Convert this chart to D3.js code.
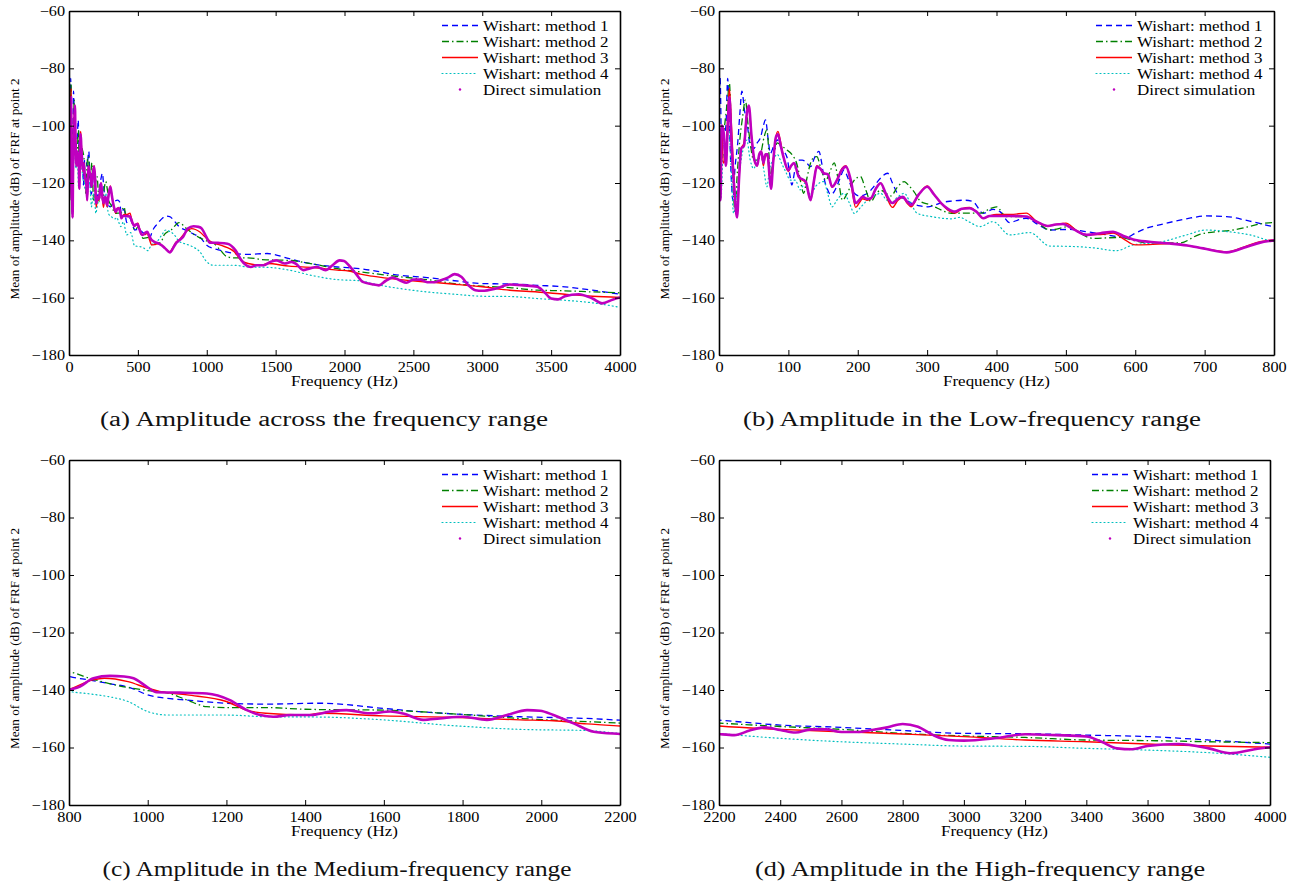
<!DOCTYPE html>
<html><head><meta charset="utf-8">
<script src="https://cdn.jsdelivr.net/npm/d3@7"></script>
<style>
body{margin:0;background:#fff;}
svg{display:block;}
svg text{font-family:"Liberation Serif","Times New Roman",serif !important;}
</style></head>
<body><svg id="c" width="1297" height="888"></svg>
<script>
// ---------------- data (frequency Hz, amplitude dB) ----------------
const method1 = [[0,-100],[1.5,-83],[4,-110],[7,-104],[10,-100],[12.5,-83.5],[15,-100],[18,-120],[20,-126],[23,-115],[27,-106],[30,-96],[33,-88],[37,-95],[40,-98],[45,-107],[50,-108],[55,-106],[60,-104],[64,-100],[67,-98],[71,-105],[74,-109.7],[79,-107],[84,-105],[90,-108],[98,-111],[102,-117],[105,-120.7],[109,-116],[113,-112],[120,-112],[125,-112.6],[132,-114.3],[138,-111],[144,-109],[148,-113],[151,-117.8],[156,-122],[161,-124],[166,-123],[170,-121],[175,-118],[180,-115.5],[187,-119],[195,-123.6],[202,-124.5],[209,-124.2],[215,-123.5],[221,-121.9],[232,-118.5],[243,-116.6],[250,-120],[257,-123.6],[267,-125.5],[277,-127],[290,-128],[301,-128.3],[310,-127.8],[320,-126.9],[335,-126.3],[354,-126],[366,-126.5],[381,-130.6],[395,-129.2],[405,-130],[419,-133.8],[430,-133],[443,-132.3],[460,-134.5],[477,-136.4],[505,-136.2],[530,-137],[559,-138.1],[587,-139],[600,-137.5],[616,-135.8],[635,-134.6],[654,-133.5],[680,-132.2],[702,-131.5],[731,-131.7],[765,-133.3],[799,-135.2],[850,-136.5],[900,-137.7],[960,-139.4],[1000,-141.7],[1050,-142.9],[1100,-143.5],[1200,-144.6],[1300,-144.9],[1438,-144.6],[1599,-146.4],[1688,-147.5],[1776,-148.3],[1947,-149.3],[2116,-149.9],[2200,-150.5],[2400,-152.2],[2600,-153],[2800,-154.1],[3000,-155.1],[3200,-155.2],[3400,-155.7],[3600,-156.2],[3800,-157.4],[4000,-158.8]];

const method2 = [[0,-104],[3,-112],[6,-105],[9,-98],[12,-92],[15,-85.2],[18,-105],[21,-124],[23,-130.6],[26,-118],[30,-105],[34,-97],[38,-91],[42,-100],[45,-106],[50,-112],[55,-112],[60,-110],[65,-104],[69,-101.5],[72,-110],[74,-118],[78,-112],[84,-106],[90,-107],[98,-108.5],[105,-110],[113,-114],[118,-120],[122,-123.6],[127,-118],[132,-113],[137,-111],[141,-110.8],[147,-115],[154,-119],[160,-116],[166,-113],[172,-119],[178,-126],[184,-124],[190,-121],[197,-118.5],[204,-117.8],[211,-122],[219,-126.5],[226,-124],[233,-122.5],[240,-123.5],[248,-124.5],[257,-121.5],[267,-119.5],[274,-121],[281,-123],[291,-126.5],[303,-127.5],[315,-128.8],[335,-130.6],[355,-130.5],[378,-130.5],[390,-129],[400,-128.3],[414,-131.7],[443,-131.7],[460,-134],[477,-136.4],[505,-135.2],[520,-137.5],[539,-139.3],[578,-139],[600,-140.2],[616,-140.9],[664,-140.9],[693,-137.9],[741,-136.4],[799,-133.8],[850,-135.8],[900,-137.7],[1000,-140.2],[1050,-141],[1100,-143.5],[1150,-145.8],[1200,-146.1],[1300,-146.1],[1400,-146.7],[1438,-146.8],[1599,-147],[1776,-148.3],[1947,-149.9],[2116,-151],[2200,-151.5],[2400,-152.7],[2600,-153.7],[2800,-155.1],[3000,-156],[3200,-156.5],[3400,-157.4],[3600,-157.6],[3800,-158],[4000,-158.3]];

const method3 = [[0,-90],[2,-122],[4,-100],[6,-113],[9,-112],[12,-100],[15,-87],[18,-100],[22,-120],[26,-132],[29,-118],[32,-108],[36,-106],[40,-96],[43,-93],[47,-104],[51,-112],[55,-114],[58,-110],[61,-109],[64,-114],[67,-110],[70,-111],[73,-118],[75,-122],[78,-113],[82,-104],[85,-102],[89,-106],[93,-111],[100,-116],[104,-114],[108,-113],[115,-118],[125,-120],[132,-126],[137,-119],[141,-114],[146,-115],[151,-116.6],[157,-117],[163,-121.5],[170,-119],[177,-115],[183,-114],[190,-120],[197,-128.5],[202,-127],[207,-125.5],[213,-126],[219,-125.5],[226,-122],[233,-120],[241,-124.5],[250,-128.5],[258,-126],[265,-125],[271,-127],[277,-128.3],[288,-124],[300,-121],[310,-124],[320,-127],[330,-129.5],[340,-130.5],[350,-129],[361,-128.5],[371,-130],[381,-132.3],[390,-131.5],[400,-131],[420,-131],[443,-130.5],[458,-133.5],[474,-135],[485,-134.5],[500,-134],[515,-136.5],[530,-138],[550,-138],[568,-137.5],[583,-139.5],[600,-141.6],[620,-141.5],[650,-141.1],[698,-142.8],[732,-144],[760,-142],[780,-140.5],[800,-139.8],[860,-136.5],[890,-135.9],[950,-137.1],[1000,-139.4],[1030,-140.5],[1100,-141.7],[1200,-144],[1250,-147],[1300,-148.1],[1400,-148.7],[1438,-148.1],[1599,-149],[1776,-149.5],[1947,-150.4],[2031,-150.7],[2116,-151.8],[2200,-152.5],[2400,-153.7],[2600,-154.5],[2800,-155.3],[3000,-156.2],[3200,-157.4],[3400,-158],[3600,-158.8],[3800,-159.5],[4000,-159.9]];

const method4 = [[0,-118],[3,-125],[6,-110],[10,-113],[14,-100],[17,-112],[21,-130.6],[25,-125],[30,-115],[35,-108],[40,-105],[45,-112],[50,-115],[55,-112],[60,-110],[65,-116],[69,-121.3],[73,-115],[78,-112],[84,-110],[90,-113],[96,-116],[103,-119],[110,-119],[117,-122.4],[124,-120],[132,-124],[140,-121],[151,-119.5],[157,-124],[163,-128.3],[170,-126],[180,-123.6],[188,-127],[195,-130.6],[204,-128.5],[214,-126],[224,-124.5],[233,-123.6],[240,-125.5],[248,-127],[257,-125],[267,-123.6],[276,-127],[286,-130.6],[306,-131.7],[335,-132.5],[347,-132],[360,-133.5],[376,-135.2],[395,-133.5],[419,-138.1],[448,-137.3],[477,-142],[505,-142.1],[539,-142.6],[573,-143.6],[597,-141.6],[635,-140.7],[674,-138.1],[702,-136.4],[731,-136.9],[765,-138.1],[800,-140.4],[850,-141.3],[900,-142.3],[950,-144],[1000,-147.5],[1050,-148.7],[1200,-148.7],[1300,-149.3],[1438,-149.4],[1599,-150.4],[1776,-152.4],[1947,-153.7],[2116,-154.1],[2200,-155.1],[2400,-156.8],[2600,-158],[2800,-158.8],[3000,-159.5],[3200,-159.6],[3400,-160.3],[3600,-160.9],[3800,-161.8],[4000,-163.4]];

const directSim = [[0,-103],[2,-126],[4,-100],[7,-103],[10,-114],[12,-104],[15,-90],[18,-106],[22,-122],[26,-132],[29,-118],[32,-108],[36,-107],[40,-96],[43,-93],[47,-104],[51,-112],[55,-114],[58,-110],[61,-109],[64,-113],[67,-110],[70,-110],[73,-118],[75,-122],[78,-113],[82,-104],[85,-103],[89,-107],[93,-111],[100,-115.5],[104,-114],[108,-113],[115,-117.8],[125,-119.5],[132,-126],[137,-119],[141,-114.3],[146,-115],[151,-116.6],[157,-117],[163,-121.3],[170,-119],[177,-115.5],[183,-114.3],[190,-119],[197,-127],[202,-126],[207,-124.8],[213,-125.5],[219,-125.3],[226,-122],[233,-120.1],[241,-124],[250,-127],[258,-125.5],[265,-124.8],[271,-126.5],[277,-127.7],[288,-124],[300,-121.3],[310,-124],[320,-127],[330,-129],[340,-130],[350,-129],[361,-128.8],[371,-130],[381,-132.3],[390,-131.5],[400,-131.5],[420,-131.5],[443,-131.7],[458,-133.5],[474,-135],[485,-134.5],[496,-134.3],[510,-136],[530,-138.1],[550,-137.5],[568,-137],[583,-138.5],[597,-139.7],[620,-140.5],[650,-141.1],[675,-141.8],[698,-142.8],[732,-144.2],[760,-142.3],[780,-140.8],[800,-140],[828,-138.8],[862,-135.9],[904,-135.1],[940,-135.3],[964,-135.9],[997,-138.8],[1023,-140.8],[1082,-140.9],[1150,-141.2],[1209,-143.5],[1252,-147],[1286,-148.7],[1319,-149.3],[1362,-148.7],[1413,-148.7],[1464,-147.5],[1505,-147],[1565,-148.1],[1616,-147.5],[1649,-148.2],[1700,-150.4],[1742,-149.9],[1801,-149.3],[1862,-150.4],[1913,-148.7],[1964,-147],[1997,-147.2],[2031,-148.7],[2082,-151.6],[2133,-154.5],[2200,-155.3],[2250,-155.7],[2300,-154.1],[2350,-153],[2400,-153.9],[2450,-154.8],[2500,-153.7],[2550,-153.7],[2600,-154.6],[2650,-154.6],[2700,-153.9],[2750,-153],[2800,-151.8],[2850,-152.8],[2900,-155.7],[2950,-157.4],[3000,-157.6],[3100,-156.8],[3200,-155.4],[3300,-155.7],[3400,-156.2],[3450,-158],[3500,-160.3],[3550,-160.6],[3600,-159.5],[3700,-158.8],[3800,-160.3],[3870,-162],[3950,-160.6],[4000,-159.9]];

const seriesNames = ["Wishart: method 1","Wishart: method 2","Wishart: method 3","Wishart: method 4","Direct simulation"];
const yTicks = [-180,-160,-140,-120,-100,-80,-60];
const xTicksA = [0,500,1000,1500,2000,2500,3000,3500,4000];
const xTicksB = [0,100,200,300,400,500,600,700,800];
const xTicksC = [800,1000,1200,1400,1600,1800,2000,2200];
const xTicksD = [2200,2400,2600,2800,3000,3200,3400,3600,3800,4000];
const captions = ["(a)  Amplitude across the frequency range","(b)  Amplitude in the Low-frequency range","(c)  Amplitude in the Medium-frequency range","(d)  Amplitude in the High-frequency range"];
const yLabel = "Mean of amplitude (dB) of FRF at point 2";
const xLabel = "Frequency (Hz)";

// ---------------- layout & styles ----------------
const SERIF = "'Liberation Serif','Times New Roman',serif";
const styles = [
  {color:"#0000ff", dash:"6,4", w:1.3},
  {color:"#008000", dash:"7,3,1.5,3", w:1.3},
  {color:"#ff0000", dash:null, w:1.4},
  {color:"#00bfbf", dash:"1,3", w:1.2},
  {color:"#bf00bf", dash:null, w:2.6}
];
const allSeries = [method1, method2, method4, method3, directSim];
const seriesOrder = [0,1,3,2,4];

const panels = [
  {l:69, r:620, t:11, b:355, dom:[0,4000], ticks:xTicksA, cap:captions[0], capX:324, capY:426, capW:448},
  {l:719, r:1274, t:11, b:355, dom:[0,800], ticks:xTicksB, cap:captions[1], capX:972, capY:426, capW:458},
  {l:69, r:620, t:460, b:805, dom:[800,2200], ticks:xTicksC, cap:captions[2], capX:337, capY:876, capW:469},
  {l:719, r:1270, t:460, b:805, dom:[2200,4000], ticks:xTicksD, cap:captions[3], capX:980, capY:876, capW:450}
];

const svg = d3.select("#c");
svg.append("rect").attr("width",1297).attr("height",888).attr("fill","#fff");
const SX = 1.12;

panels.forEach((p,i)=>{
  const x = d3.scaleLinear().domain(p.dom).range([p.l,p.r]);
  const y = d3.scaleLinear().domain([-180,-60]).range([p.b,p.t]);
  const g = svg.append("g");
  const cid = "clip"+i;
  svg.append("clipPath").attr("id",cid).append("rect")
    .attr("x",p.l).attr("y",p.t).attr("width",p.r-p.l).attr("height",p.b-p.t);

  const line = d3.line().x(d=>x(d[0])).y(d=>y(d[1])).curve(d3.curveMonotoneX);
  const lg = g.append("g").attr("clip-path",`url(#${cid})`);
  allSeries.forEach((s,k)=>{
    const st = styles[seriesOrder[k]];
    lg.append("path").datum(s).attr("d",line).attr("fill","none")
      .attr("stroke",st.color).attr("stroke-width",st.w)
      .attr("stroke-dasharray",st.dash).attr("stroke-linejoin","round").attr("stroke-linecap", st.dash==="1,3"?"round":"butt");
  });

  // axes
  const fmt = d3.format("");
  const ax = g.append("g").attr("transform",`translate(0,${p.b})`)
    .call(d3.axisBottom(x).tickValues(p.ticks).tickFormat(fmt).tickSizeInner(-5).tickSizeOuter(0).tickPadding(7));
  const at = g.append("g").attr("transform",`translate(0,${p.t})`)
    .call(d3.axisTop(x).tickValues(p.ticks).tickFormat("").tickSizeInner(-5).tickSizeOuter(0));
  const ay = g.append("g").attr("transform",`translate(${p.l},0)`)
    .call(d3.axisLeft(y).tickValues(yTicks).tickFormat(fmt).tickSizeInner(-5).tickSizeOuter(0).tickPadding(4));
  const ar = g.append("g").attr("transform",`translate(${p.r},0)`)
    .call(d3.axisRight(y).tickValues(yTicks).tickFormat("").tickSizeInner(-5).tickSizeOuter(0));
  [ax,at,ay,ar].forEach(a=>{
    a.attr("font-family",SERIF);
    a.select(".domain").attr("stroke","#000").attr("stroke-width",1.6);
    a.selectAll(".tick line").attr("stroke","#000").attr("stroke-width",1);
    a.selectAll("text").style("font-family",SERIF).attr("font-size",14.5).attr("fill","#000");
  });
  ax.selectAll(".tick text").attr("transform",`scale(${SX},1)`);
  ay.selectAll(".tick text").attr("transform",`scale(${SX},1)`).attr("x",-4/SX).attr("dy","0.3em");

  // axis labels
  g.append("text").attr("x",(p.l+p.r)/2).attr("y",p.b+31).attr("text-anchor","middle")
    .style("font-family",SERIF).attr("font-size",14).attr("textLength",107).attr("lengthAdjust","spacingAndGlyphs").text(xLabel);
  const cy = (p.t+p.b)/2+6;
  g.append("text").attr("transform",`translate(${p.l-50},${cy}) rotate(-90)`).attr("text-anchor","middle")
    .style("font-family",SERIF).attr("font-size",13.5).attr("textLength",221).attr("lengthAdjust","spacingAndGlyphs").text(yLabel);

  // legend
  const lx0 = p.r-178, lx1 = p.r-142, tx = p.r-137;
  styles.forEach((st,k)=>{
    const ly = p.t + 14.5 + k*16;
    if(k<4){
      g.append("line").attr("x1",lx0).attr("x2",lx1).attr("y1",ly).attr("y2",ly)
        .attr("stroke",st.color).attr("stroke-width",k===3?1.2:1.3).attr("stroke-dasharray",st.dash)
        .attr("stroke-linecap",k===3?"round":"butt");
    } else {
      g.append("circle").attr("cx",(lx0+lx1)/2).attr("cy",ly).attr("r",1.2).attr("fill",st.color);
    }
    g.append("text").attr("transform",`translate(${tx},${ly+5}) scale(1.13,1)`)
      .style("font-family",SERIF).attr("font-size",15).attr("fill","#000").text(seriesNames[k]);
  });

  // caption
  svg.append("text").attr("x",p.capX).attr("y",p.capY).attr("text-anchor","middle")
    .style("font-family",SERIF).attr("font-size",20).attr("textLength",p.capW).attr("lengthAdjust","spacingAndGlyphs")
    .attr("fill","#111").text(p.cap);
});
</script></body></html>
